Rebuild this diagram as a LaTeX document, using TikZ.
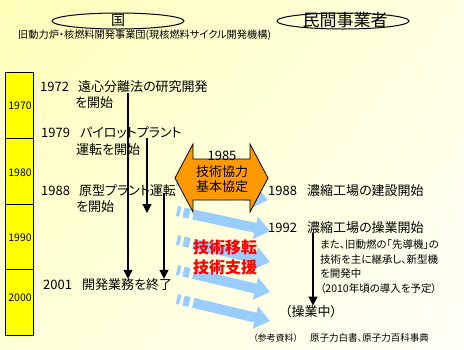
\documentclass[tikz,border=0pt]{standalone}
\usepackage{fontspec}
\setmainfont{Noto Sans CJK JP}[RawFeature=+palt]
\usetikzlibrary{arrows.meta,calc,shadings}
\definecolor{bgUL}{RGB}{255,255,185}
\definecolor{bgUR}{RGB}{255,255,225}
\definecolor{bgLL}{RGB}{255,255,215}
\definecolor{bgLR}{RGB}{255,255,248}
\definecolor{barY}{RGB}{255,255,0}
\definecolor{orangeA}{RGB}{255,153,0}
\definecolor{lblue}{RGB}{153,204,255}
\definecolor{redT}{RGB}{255,0,0}
\newcommand{\fs}[1]{\fontsize{#1}{#1}\selectfont}
\begin{document}
\begin{tikzpicture}[x=1pt,y=-1pt,
  txt/.style={font=\fs{13}, inner sep=0pt, anchor=west, text=black},
  smalltxt/.style={font=\fs{10.5}, inner sep=0pt, anchor=west},
  yearbox/.style={draw=black, fill=barY, line width=0.8pt},
  yeartxt/.style={font=\fs{10.5}, inner sep=0pt},
  ell/.style={draw=black, line width=1pt},
  darrow/.style={line width=1.2pt, -{Triangle[width=9pt,length=9pt]}},
  bluebody/.style={draw=lblue, line width=10pt, -{Triangle[width=22pt,length=15pt]}},
  bluedash/.style={draw=lblue, line width=10pt},
  redtxt/.style={font=\fs{16}\bfseries, text=redT, inner sep=0pt}]
\useasboundingbox (0,0) rectangle (464,349);
\shade[upper left=bgUL, upper right=bgUR, lower left=bgLL, lower right=bgLR] (0,0) rectangle (464,349);

% header ellipses
\draw[ell] (118,21) ellipse [x radius=66, y radius=8];
\node[font=\fs{14}, inner sep=0pt] (kuni) at (118,20) {国};
\draw[ell] (343,21) ellipse [x radius=66, y radius=8];
\node[font=\fs{17}, inner sep=0pt] (minkan) at (345,20) {民間事業者};
\node[font=\fs{10.2}, inner sep=0pt, anchor=west] (sub) at (18,35) {旧動力炉・核燃料開発事業団(現核燃料サイクル開発機構)};

% year bar
\draw[yearbox] (5,72) rectangle (33,138);
\draw[yearbox] (5,138) rectangle (33,204);
\draw[yearbox] (5,204) rectangle (33,269);
\draw[yearbox] (5,269) rectangle (33,335);
\node[yeartxt] (b70) at (20,106) {1970};
\node[yeartxt] (b80) at (20,173) {1980};
\node[yeartxt] (b90) at (20,238) {1990};
\node[yeartxt] (b00) at (20,298) {2000};

% left texts
\node[txt] (y72) at (40,87) {1972};
\node[txt] (t72) at (78,87) {遠心分離法の研究開発};
\node[txt] (t72b) at (75,103) {を開始};
\node[txt] (y79) at (41,133) {1979};
\node[txt] (t79) at (80,133) {パイロットプラント};
\node[txt] (t79b) at (76,150) {運転を開始};
\node[txt] (y88) at (41,191) {1988};
\node[txt] (t88) at (79,191) {原型プラント運転};
\node[txt] (t88b) at (76,207) {を開始};
\node[txt] (y01) at (43,285) {2001};
\node[txt] (t01) at (82,285) {開発業務を終了};

\coordinate (s1) at (128,93);
\coordinate (s2) at (147,138);
\coordinate (e2) at (147,213);
\coordinate (s3) at (164,193);
\draw[darrow] (s1) -- (s1 |- t01.north);
\draw[darrow] (s2) -- (e2);
\draw[darrow] (s3) -- (s3 |- t01.north);

% blue arrows
\foreach \ya/\xb/\yb [count=\i] in {181/268/200, 211/270/231, 240/270/262, 270/270/292, 299/270/321}{
  \coordinate (bt\i) at (177,\ya);
  \coordinate (bh\i) at (\xb,\yb);
  \draw[bluedash] ($(bt\i)!0!(bh\i)$) -- ($(bt\i)!0.035!(bh\i)$);
  \draw[bluedash] ($(bt\i)!0.07!(bh\i)$) -- ($(bt\i)!0.135!(bh\i)$);
  \draw[bluebody] ($(bt\i)!0.175!(bh\i)$) -- (bh\i);
}

% orange double arrow
\draw[fill=orangeA, draw=black, line width=0.8pt] (175,178) -- (193,144) -- (193,159) -- (250,159) -- (250,144) -- (268,178) -- (250,212) -- (250,200) -- (193,200) -- (193,212) -- cycle;
\node[font=\fs{13}, inner sep=0pt] (y85) at (222,156) {1985};
\node[font=\fs{13}, inner sep=0pt] (kyo1) at (222,172) {技術協力};
\node[font=\fs{13}, inner sep=0pt] (kyo2) at (222,187) {基本協定};

% red text
\node[redtxt] (ten) at (225,247) {技術移転};
\node[redtxt] (shi) at (225,267) {技術支援};

% right texts
\node[txt] (r88) at (268,191) {1988};
\node[txt] (r88t) at (307,191) {濃縮工場の建設開始};
\node[txt] (r92) at (268,228) {1992};
\node[txt] (r92t) at (307,228) {濃縮工場の操業開始};
\node[smalltxt] (n1) at (320,245) {また、旧動燃の「先導機」の};
\node[smalltxt] (n2) at (320,259.5) {技術を主に継承し、新型機};
\node[smalltxt] (n3) at (320,274) {を開発中};
\node[smalltxt] (n4) at (320,288.5) {（2010年頃の導入を予定）};
\node[font=\fs{13}, inner sep=0pt] (sogyo) at (311,312) {（操業中）};
\coordinate (s4) at (313,233);
\draw[darrow] (s4) -- (s4 |- sogyo.north);

\node[font=\fs{9}, inner sep=0pt, anchor=west] (ref1) at (253,338) {（参考資料）};
\node[font=\fs{9.5}, inner sep=0pt, anchor=west] (ref2) at (310,338) {原子力白書、原子力百科事典};
\end{tikzpicture}
\end{document}
